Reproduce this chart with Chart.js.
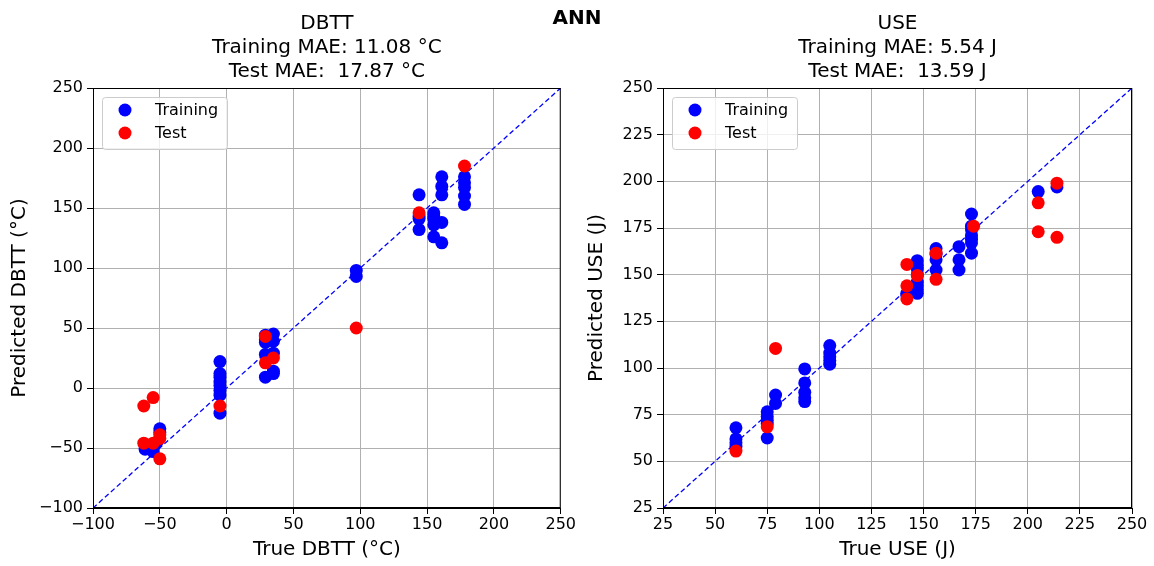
<!DOCTYPE html>
<html>
<head>
<meta charset="utf-8">
<script src="https://cdn.jsdelivr.net/npm/chart.js@4"></script>
<style>
  body { margin: 0; background: white; }
  #wrap { position: relative; width: 1154px; height: 566px; }
  #sup { position: absolute; left: 0; top: 5px; width: 1154px; text-align: center;
         font: bold 20px "DejaVu Sans"; color: black; }
  canvas { position: absolute; top: 0; }
</style>
</head>
<body>
<div id="wrap">
  <canvas id="dbttChart" width="577" height="566" style="left:0"></canvas>
  <canvas id="useChart" width="577" height="566" style="left:577px"></canvas>
  <div id="sup">ANN</div>
</div>
<script>
// DBTT (°C)
var dbttTrainTrue = [-61, -55, -55, -50, -50, -52, -5, -5, -5, -5, -5, -5, -5, -5,
    29, 29, 29, 29, 29, 35, 35, 35, 35, 35, 97, 97,
    144, 144, 144, 144, 155, 155, 155, 155, 155, 161, 161, 161, 161, 161,
    178, 178, 178, 178, 178];
var dbttTrainPred = [-51, -53, -50, -34, -37, -45, 22, 12, 9, 5, 2, -2, -6, -21,
    44, 38, 40, 28, 9, 45, 39, 29, 12, 14, 98, 93,
    161, 141, 132, 143, 146, 141, 136, 126, 143, 176, 168, 161, 138, 121,
    176, 171, 167, 160, 153];
var dbttTestTrue = [-62, -62, -55, -55, -50, -50, -50, -5, 29, 29, 35, 97, 144, 178];
var dbttTestPred = [-46, -15, -8, -46, -59, -42, -39, -15, 43, 21, 25, 50, 146, 185];

// USE (J)
var useTrainTrue = [60, 60, 60, 60, 75, 75, 75, 75, 75, 79, 79,
    93, 93, 93, 93, 93, 105, 105, 105, 105, 105, 142, 142,
    147, 147, 147, 147, 147, 147, 147, 147, 156, 156, 156, 156, 167, 167, 167,
    173, 173, 173, 173, 173, 173, 173, 205, 214];
var useTrainPred = [68, 62, 60, 58, 76.5, 74, 72, 70, 62.5, 85.5, 81,
    99.5, 92, 87, 84, 82, 112, 108, 106, 104, 102, 140, 139,
    157.5, 155, 153, 150, 146, 144, 142, 140, 164, 161, 158, 152.5, 165, 158, 152.5,
    182.5, 176, 174, 171, 169, 167, 161.5, 194.5, 197];
var useTestTrue = [60, 75, 79, 142, 142, 142, 147, 156, 156, 174, 205, 205, 214, 214];
var useTestPred = [55.5, 68.5, 110.5, 155.5, 144, 137, 149.5, 161.5, 147.5, 176, 188.5, 173, 199, 170];

var dbttLimits = [-100, 250];
var useLimits = [25, 250];

var dbttTitle = ['DBTT', 'Training MAE: 11.08 °C', 'Test MAE:  17.87 °C'];
var useTitle = ['USE', 'Training MAE: 5.54 J', 'Test MAE:  13.59 J'];
var legendLabels = ['Training', 'Test'];

Chart.defaults.font.family = 'DejaVu Sans';
Chart.defaults.color = 'black';

function pairs(xs, ys) {
    return xs.map((x, i) => ({x: x, y: ys[i]}));
}

function minusTick(value) {
    return value < 0 ? '\u2212' + Math.abs(value) : '' + value;
}

// black frame round the plot area + legend box in the top-left corner
var frameLegend = {
    id: 'frameLegend',
    afterDatasetsDraw(chart) {
        var ctx = chart.ctx, a = chart.chartArea;
        ctx.save();
        ctx.strokeStyle = 'black';
        ctx.lineWidth = 1;
        ctx.strokeRect(a.left + 0.5, a.top + 0.5, a.right - a.left - 1, a.bottom - a.top - 1);

        var bx = a.left + 9, by = a.top + 9;
        ctx.beginPath();
        ctx.roundRect(bx + 0.5, by + 0.5, 125, 52, 3);
        ctx.fillStyle = 'rgba(255,255,255,0.8)';
        ctx.fill();
        ctx.strokeStyle = '#cccccc';
        ctx.stroke();

        var colors = ['#0000ff', '#ff0000'];
        ctx.font = '16px "DejaVu Sans"';
        ctx.textBaseline = 'middle';
        legendLabels.forEach((lab, i) => {
            var cy = by + 13 + i * 23;
            ctx.beginPath();
            ctx.arc(bx + 23, cy, 6.5, 0, Math.PI * 2);
            ctx.fillStyle = colors[i];
            ctx.fill();
            ctx.fillStyle = 'black';
            ctx.fillText(lab, bx + 53, cy + 1);
        });
        ctx.restore();
    }
};

function makeChart(id, trainX, trainY, testX, testY, limits, step, title, xLabel, yLabel, yWidth, rightPad) {
    return new Chart(id, {
        type: 'scatter',
        data: {
            datasets: [{
                label: 'Test',
                data: pairs(testX, testY),
                backgroundColor: '#ff0000',
                borderWidth: 0,
                pointRadius: 6.5,
                pointHoverRadius: 6.5,
                order: 0
            }, {
                label: 'Training',
                data: pairs(trainX, trainY),
                backgroundColor: '#0000ff',
                borderWidth: 0,
                pointRadius: 6.5,
                pointHoverRadius: 6.5,
                order: 1
            }, {
                label: 'diag',
                type: 'line',
                data: pairs(limits, limits),
                borderColor: '#0000ff',
                borderWidth: 1.3,
                borderDash: [5, 3],
                pointRadius: 0,
                fill: false,
                order: 2
            }]
        },
        options: {
            responsive: false,
            animation: false,
            devicePixelRatio: 1,
            layout: {
                padding: {left: 0, right: rightPad, top: 0, bottom: 0}
            },
            scales: {
                x: {
                    type: 'linear',
                    min: limits[0],
                    max: limits[1],
                    afterFit: s => { s.height = 58; },
                    ticks: {
                        stepSize: step,
                        autoSkip: false,
                        maxRotation: 0,
                        padding: 1,
                        font: {size: 16},
                        color: 'black',
                        callback: minusTick
                    },
                    grid: {
                        color: '#b0b0b0',
                        tickColor: 'black',
                        tickLength: 6
                    },
                    border: {color: 'black'},
                    title: {
                        display: true,
                        text: xLabel,
                        font: {size: 20},
                        color: 'black',
                        padding: {top: 4, bottom: 4}
                    }
                },
                y: {
                    type: 'linear',
                    min: limits[0],
                    max: limits[1],
                    afterFit: s => { s.width = yWidth; },
                    ticks: {
                        stepSize: step,
                        autoSkip: false,
                        padding: 4,
                        font: {size: 16},
                        color: 'black',
                        callback: minusTick
                    },
                    grid: {
                        color: '#b0b0b0',
                        tickColor: 'black',
                        tickLength: 6
                    },
                    border: {color: 'black'},
                    title: {
                        display: true,
                        text: yLabel,
                        font: {size: 20},
                        color: 'black',
                        padding: {top: 8, bottom: 4}
                    }
                }
            },
            plugins: {
                legend: {display: false},
                tooltip: {enabled: false},
                title: {
                    display: true,
                    text: title,
                    fullSize: false,
                    color: 'black',
                    font: {size: 20, weight: 'normal', lineHeight: 1.2},
                    padding: {top: 12, bottom: 4}
                }
            }
        },
        plugins: [frameLegend]
    });
}

var dbttChart = makeChart('dbttChart', dbttTrainTrue, dbttTrainPred, dbttTestTrue, dbttTestPred,
    dbttLimits, 50, dbttTitle, 'True DBTT (°C)', 'Predicted DBTT (°C)', 93, 15);
var useChart = makeChart('useChart', useTrainTrue, useTrainPred, useTestTrue, useTestPred,
    useLimits, 25, useTitle, 'True USE (J)', 'Predicted USE (J)', 86, 22);
</script>
</body>
</html>
